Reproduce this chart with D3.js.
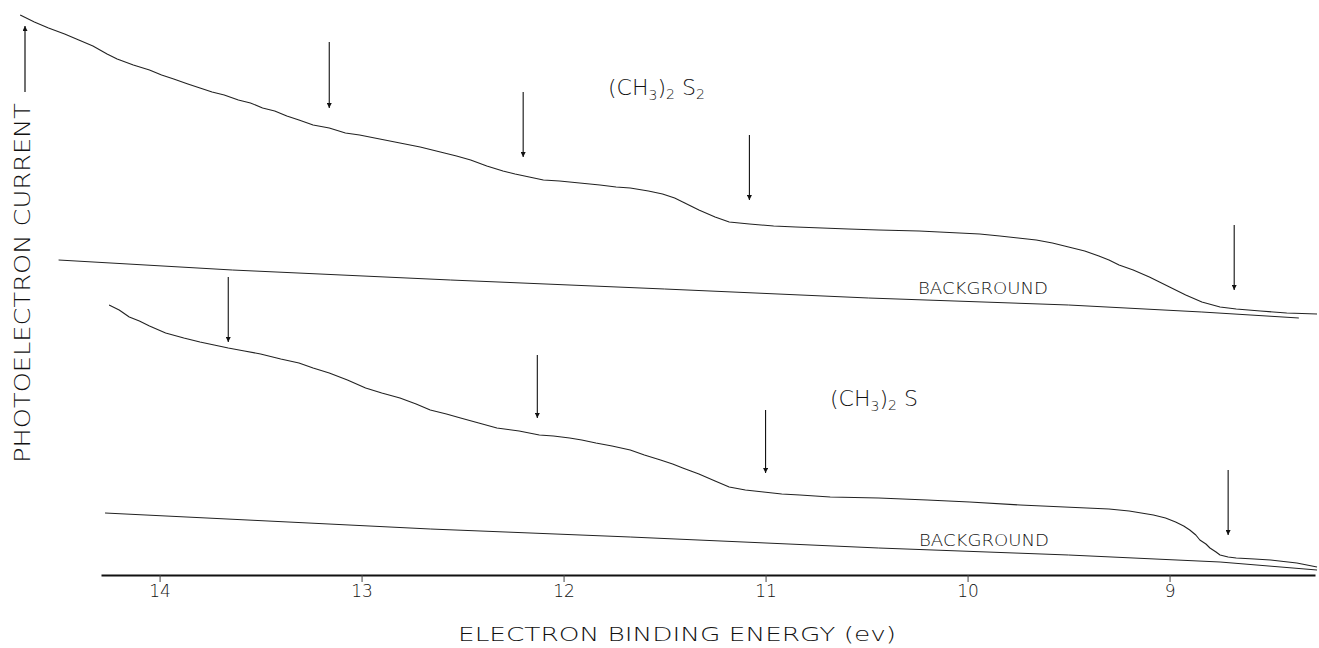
<!DOCTYPE html>
<html>
<head>
<meta charset="utf-8">
<script src="https://cdn.jsdelivr.net/npm/d3@7"></script>
<style>
  body { margin: 0; background: #fff; }
  text { font-family: "DejaVu Sans", "Liberation Sans", sans-serif; font-weight: 200; fill: #111; }
</style>
</head>
<body>
<script>
let width = 1319;
let height = 648;

// binding energy (eV) and photoelectron current (arbitrary units)
let s2Energy = [14.69, 14.62, 14.55, 14.47, 14.40, 14.33, 14.26, 14.21, 14.13, 14.05, 13.99, 13.93, 13.86, 13.80, 13.74, 13.68, 13.61, 13.55, 13.49, 13.43, 13.37, 13.31, 13.24, 13.16, 13.08, 13.01, 12.91, 12.81, 12.71, 12.61, 12.53, 12.46, 12.38, 12.30, 12.24, 12.17, 12.10, 12.02, 11.92, 11.82, 11.74, 11.67, 11.58, 11.51, 11.45, 11.41, 11.37, 11.33, 11.25, 11.18, 11.08, 10.96, 10.85, 10.72, 10.59, 10.44, 10.24, 10.04, 9.94, 9.84, 9.75, 9.66, 9.58, 9.50, 9.42, 9.35, 9.30, 9.25, 9.18, 9.10, 9.05, 9.00, 8.92, 8.84, 8.75, 8.67, 8.55, 8.42, 8.27];
let s2Current = [560, 553, 547, 541, 535, 529, 521, 516, 510, 505, 500, 496, 491, 487, 483, 480, 475, 472, 467, 464, 459, 455, 450, 447, 442, 440, 436, 432, 428, 423, 419, 415, 409, 404, 401, 398, 395, 394, 392, 390, 388, 387, 384, 381, 377, 373, 369, 365, 358, 353, 351, 349, 348, 347, 346, 345, 344, 342, 341, 339, 337, 335, 332, 328, 324, 319, 315, 310, 305, 298, 293, 288, 280, 273, 268, 266, 264, 262, 261];

let s2BgEnergy = [14.50, 13.64, 12.56, 11.50, 10.49, 9.50, 8.84, 8.36];
let s2BgCurrent = [315, 305, 295, 286, 277, 270, 263, 257];

let sEnergy = [14.25, 14.20, 14.15, 14.10, 14.05, 13.97, 13.88, 13.80, 13.73, 13.66, 13.58, 13.50, 13.40, 13.31, 13.24, 13.16, 13.07, 12.98, 12.90, 12.81, 12.73, 12.66, 12.58, 12.51, 12.42, 12.33, 12.22, 12.12, 12.05, 11.97, 11.91, 11.84, 11.76, 11.67, 11.60, 11.52, 11.46, 11.41, 11.37, 11.33, 11.25, 11.18, 11.10, 11.01, 10.92, 10.83, 10.68, 10.44, 10.20, 9.99, 9.74, 9.41, 9.30, 9.20, 9.14, 9.08, 9.02, 8.97, 8.93, 8.90, 8.87, 8.85, 8.82, 8.80, 8.77, 8.75, 8.71, 8.67, 8.58, 8.50, 8.37, 8.27];
let sCurrent = [270, 265, 258, 254, 249, 242, 237, 233, 230, 227, 224, 221, 216, 212, 207, 202, 195, 187, 182, 177, 171, 165, 161, 157, 152, 147, 144, 140, 139, 137, 135, 132, 129, 125, 120, 115, 111, 107, 104, 101, 94, 88, 85, 83, 81, 80, 78, 77, 75, 73, 70, 67, 66, 64, 62, 60, 57, 53, 49, 45, 40, 35, 31, 27, 23, 20, 18, 17, 16, 15, 12, 8];

let sBgEnergy = [14.27, 12.66, 11.67, 10.44, 9.50, 8.75, 8.27];
let sBgCurrent = [62, 46, 38, 27, 20, 13, 5];

// marked ionization onsets: energy, arrow top, arrow tip
let s2Marks = [13.16, 12.20, 11.08, 8.68];
let s2MarkTop = [533, 483, 440, 350];
let s2MarkTip = [467, 418, 375, 285];
let sMarks = [13.66, 12.13, 11.00, 8.71];
let sMarkTop = [298, 220, 165, 105];
let sMarkTip = [233, 157, 102, 40];

let tickValues = [14, 13, 12, 11, 10, 9];

let svg = d3.select("body")
            .append("svg")
            .attr("width", width)
            .attr("height", height);

let x = d3.scaleLinear().domain([14.29, 8.28]).range([101, 1315]);
let y = d3.scaleLinear().domain([0, 560]).range([575, 15]);

svg.append("defs").append("marker")
    .attr("id", "head")
    .attr("viewBox", "0 0 10 10")
    .attr("refX", 10)
    .attr("refY", 5)
    .attr("markerWidth", 10)
    .attr("markerHeight", 5)
    .attr("markerUnits", "userSpaceOnUse")
    .attr("orient", "auto")
    .append("path")
    .attr("d", "M0,0L10,5L0,10Z")
    .style("fill", "#111");

let line = d3.line()
    .x(d => x(d[0]))
    .y(d => y(d[1]));

function trace(energy, current, w) {
    svg.append("path")
        .attr("d", line(d3.zip(energy, current)))
        .style("fill", "none")
        .style("stroke", "#222")
        .style("stroke-width", w)
        .style("stroke-linejoin", "round");
}

trace(s2Energy, s2Current, 1.1);
trace(s2BgEnergy, s2BgCurrent, 1);
trace(sEnergy, sCurrent, 1.1);
trace(sBgEnergy, sBgCurrent, 1);

function arrows(marks, top, tip) {
    svg.append("g").selectAll("line")
        .data(marks)
        .join("line")
        .attr("x1", d => x(d))
        .attr("x2", d => x(d))
        .attr("y1", (d, i) => y(top[i]))
        .attr("y2", (d, i) => y(tip[i]))
        .attr("marker-end", "url(#head)")
        .style("stroke", "#111")
        .style("stroke-width", 1.1);
}
arrows(s2Marks, s2MarkTop, s2MarkTip);
arrows(sMarks, sMarkTop, sMarkTip);

// x axis
let axis = svg.append("g")
    .attr("transform", `translate(0,${y(0)})`)
    .call(d3.axisBottom(x).tickValues(tickValues).tickSize(7).tickSizeOuter(0).tickFormat(d3.format("d")));
axis.select(".domain").style("stroke", "#111").style("stroke-width", 1.8);
axis.selectAll(".tick line").style("stroke", "#444");
axis.selectAll(".tick text")
    .style("font-size", "17px")
    .style("font-family", "'DejaVu Sans', sans-serif")
    .style("font-weight", 200)
    .style("fill", "#111");

svg.append("text")
    .attr("x", 458)
    .attr("y", 641)
    .attr("textLength", 438)
    .attr("lengthAdjust", "spacingAndGlyphs")
    .style("font-size", "20px")
    .text("ELECTRON  BINDING  ENERGY (ev)");

// y label with arrow
svg.append("text")
    .attr("transform", "translate(30,463) rotate(-90)")
    .attr("textLength", 360)
    .attr("lengthAdjust", "spacingAndGlyphs")
    .style("font-size", "21px")
    .text("PHOTOELECTRON  CURRENT");
svg.append("line")
    .attr("x1", 25).attr("x2", 25)
    .attr("y1", 92).attr("y2", 26)
    .attr("marker-end", "url(#head)")
    .style("stroke", "#111")
    .style("stroke-width", 1.2);

// compound labels
function formula(px, py, parts) {
    let t = svg.append("text")
        .attr("x", px)
        .attr("y", py)
        .style("font-size", "22px");
    parts.forEach(p => {
        t.append("tspan")
            .attr("dy", p[1])
            .style("font-size", p[2])
            .text(p[0]);
    });
}
formula(608, 95, [["(CH", 0, "22px"], ["3", 5, "14px"], [")", -5, "22px"], ["2", 4, "14px"], [" S", -4, "22px"], ["2", 4, "14px"]]);
formula(830, 406, [["(CH", 0, "22px"], ["3", 5, "14px"], [")", -5, "22px"], ["2", 4, "14px"], [" S", -4, "22px"]]);

function bgLabel(px, py) {
    svg.append("text")
        .attr("x", px)
        .attr("y", py)
        .attr("textLength", 130)
        .attr("lengthAdjust", "spacingAndGlyphs")
        .style("font-size", "15px")
        .text("BACKGROUND");
}
bgLabel(918, 294);
bgLabel(919, 546);
</script>
</body>
</html>
